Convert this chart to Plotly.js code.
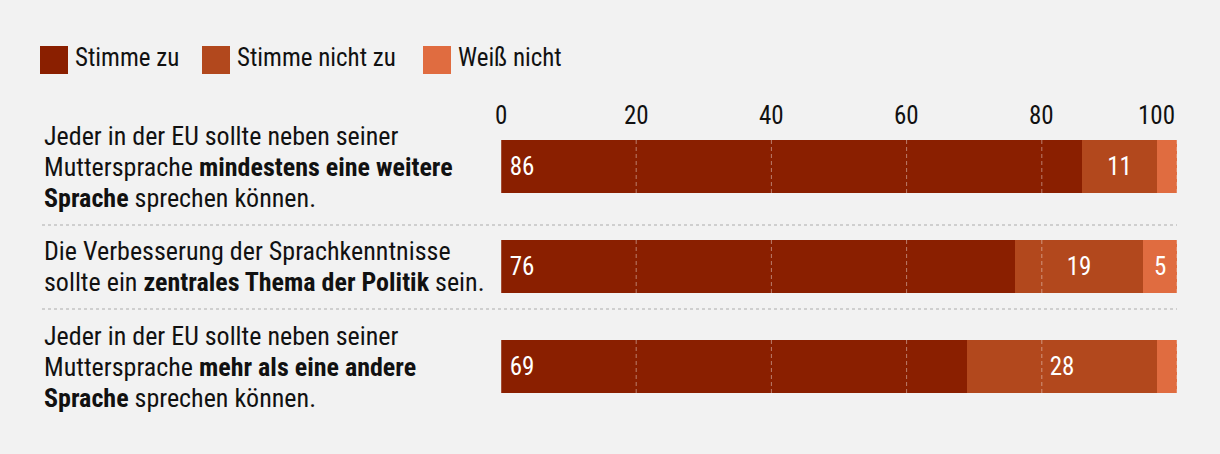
<!DOCTYPE html>
<html><head><meta charset="utf-8">
<script src="https://cdn.plot.ly/plotly-3.0.1.min.js"></script>
<style>html,body{margin:0;padding:0;background:#f2f2f2;} #chart{width:1220px;height:454px;}</style>
</head><body><div id="chart"></div>
<script>
// ---- data ----
const categories = [
  "Jeder in der EU sollte neben seiner<br>Muttersprache <b>mindestens eine weitere</b><br><b>Sprache</b> sprechen können.",
  "Die Verbesserung der Sprachkenntnisse<br>sollte ein <b>zentrales Thema der Politik</b> sein.",
  "Jeder in der EU sollte neben seiner<br>Muttersprache <b>mehr als eine andere</b><br><b>Sprache</b> sprechen können."
];
const seriesNames = ["Stimme zu", "Stimme nicht zu", "Weiß nicht"];
const stimmeZu = [86, 76, 69];
const stimmeNichtZu = [11, 19, 28];
const weissNicht = [3, 5, 3];
const tickValues = [0, 20, 40, 60, 80, 100];

// ---- style ----
const colors = ["#8a1f00", "#b2481d", "#e06c40"];
const FONT = "'Roboto Condensed', 'Liberation Sans Narrow', 'Arial Narrow', 'DejaVu Sans Condensed', Roboto, sans-serif";
const FS = 25;
const LABEL_FS = 26;
const LINE_H = 31;
const W = 1220, H = 454;
const M = {l: 501, r: 43, t: 130, b: 34};
const plotW = W - M.l - M.r, plotH = H - M.t - M.b;
const px2x = p => (p - M.l) / plotW;
const px2y = p => (H - M.b - p) / plotH;
const barWidth = 0.53;

const idx = categories.map((c, i) => i);
const series = [stimmeZu, stimmeNichtZu, weissNicht];

const traces = series.map((vals, s) => ({
  type: 'bar', orientation: 'h',
  name: seriesNames[s],
  x: vals, y: idx,
  width: barWidth,
  marker: {color: colors[s], line: {width: 0}},
  text: vals.map(v => v >= 5 ? (s === 0 ? '\u00a0' + v : String(v)) : ''),
  textposition: 'inside',
  insidetextanchor: s === 0 ? 'start' : 'middle',
  textfont: {family: FONT, size: FS, color: '#ffffff'},
  constraintext: 'none',
  hoverinfo: 'skip',
  showlegend: false
}));

const shapes = [];
// grid lines drawn over the bars
idx.forEach(i => {
  tickValues.forEach(t => {
    shapes.push({type: 'line', xref: 'x', yref: 'y', x0: t, x1: t,
      y0: i - barWidth / 2, y1: i + barWidth / 2, layer: 'above',
      line: {color: 'rgba(255,255,255,0.42)', width: 1, dash: t === 0 ? 'solid' : '4px,3px'}});
  });
});
// separators between rows
[0.585, 1.425].forEach(yv => {
  shapes.push({type: 'line', xref: 'paper', yref: 'y', x0: px2x(42), x1: 1, y0: yv, y1: yv,
    line: {color: '#cfcfcf', width: 2, dash: 'dot'}});
});

const annotations = [];
// row labels, one annotation per line
categories.forEach((c, i) => {
  const lines = c.split('<br>');
  lines.forEach((ln, k) => {
    annotations.push({xref: 'paper', yref: 'y', x: px2x(42), y: i, xanchor: 'left', yanchor: 'middle',
      yshift: -(k - (lines.length - 1) / 2) * LINE_H,
      align: 'left', text: ln, showarrow: false, font: {family: FONT, size: LABEL_FS, color: '#111111'}});
  });
});
// x tick labels (top)
tickValues.forEach((t, k) => {
  annotations.push({xref: 'x', yref: 'paper', x: t, y: px2y(116), yanchor: 'middle',
    xanchor: k === tickValues.length - 1 ? 'right' : 'center',
    text: String(t), showarrow: false, font: {family: FONT, size: FS, color: '#111111'}});
});
// legend
const legendX = [40, 202, 423];
seriesNames.forEach((n, s) => {
  shapes.push({type: 'rect', xref: 'paper', yref: 'paper',
    x0: px2x(legendX[s]), x1: px2x(legendX[s] + 28), y0: px2y(74), y1: px2y(46),
    fillcolor: colors[s], line: {width: 0}});
  annotations.push({xref: 'paper', yref: 'paper', x: px2x(legendX[s] + 33), y: px2y(58),
    xanchor: 'left', yanchor: 'middle', text: n, showarrow: false,
    font: {family: FONT, size: FS, color: '#111111'}});
});

const layout = {
  width: W, height: H,
  margin: M,
  paper_bgcolor: '#f2f2f2', plot_bgcolor: '#f2f2f2',
  barmode: 'stack', showlegend: false,
  font: {family: FONT, size: FS, color: '#111111'},
  xaxis: {range: [0, 100], side: 'top', tickvals: tickValues, showticklabels: false,
    showgrid: false, zeroline: false, showline: false, ticks: '', fixedrange: true},
  yaxis: {range: [2.535, -0.365], showticklabels: false, showgrid: false, zeroline: false,
    showline: false, ticks: '', fixedrange: true},
  shapes: shapes,
  annotations: annotations
};

Plotly.newPlot('chart', traces, layout, {staticPlot: true, displayModeBar: false});
</script>
</body></html>
